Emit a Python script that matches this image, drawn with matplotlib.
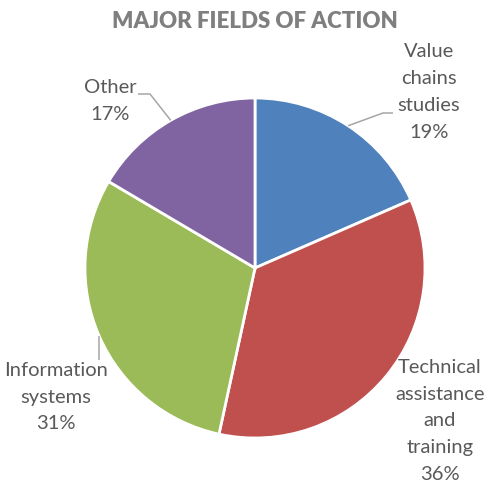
import matplotlib
matplotlib.use("Agg")
import matplotlib.pyplot as plt
import numpy as np

labels = ["Value\nchains\nstudies", "Technical\nassistance\nand\ntraining", "Information\nsystems", "Other"]
values = [19, 36, 31, 17]
colors = ["#4F81BD", "#C0504D", "#9BBB59", "#8064A2"]

fig = plt.figure(figsize=(4.88, 4.84), dpi=100)
# pie centre ~ (255,268) px, radius ~170 px
cx, cy, r = 255, 268, 170
ax = fig.add_axes([(cx - r) / 488, (484 - cy - r) / 484, 2 * r / 488, 2 * r / 484])

wedges, _ = ax.pie(values, colors=colors, startangle=90, counterclock=False,
                   radius=1, wedgeprops=dict(edgecolor="white", linewidth=2))
ax.set_xlim(-1, 1)
ax.set_ylim(-1, 1)
ax.set_aspect("equal")
ax.axis("off")

# mid angles of each wedge
mids = [np.deg2rad((w.theta1 + w.theta2) / 2) for w in wedges]

def px(x, y):
    return (x - cx) / r, (cy - y) / r

txt = dict(fontsize=14.5, color="#595959", ha="center", va="center",
           linespacing=1.7, family="Lato", fontweight="normal", clip_on=False)
lbl_pos = [px(429, 92), px(440, 421), px(56, 397), px(110, 101)]
for lab, v, (x, y) in zip(labels, values, lbl_pos):
    ax.text(x, y, f"{lab}\n{v}%", **txt)

lc = dict(color="#A6A6A6", lw=1.1, clip_on=False, solid_capstyle="butt")
# value chains leader
a = mids[0]
e1, e2 = px(383, 113), px(393, 113)
ax.plot([np.cos(a), e1[0], e2[0]], [np.sin(a), e1[1], e2[1]], **lc)
# other leader
a = mids[3]
e1, e2 = px(150, 94), px(138, 94)
ax.plot([np.cos(a), e1[0], e2[0]], [np.sin(a), e1[1], e2[1]], **lc)
# information systems leader
a = mids[2]
ax.plot([np.cos(a), np.cos(a)], [np.sin(a), px(0, 360)[1]], **lc)

fig.text(255 / 488, 1 - 22 / 484, "MAJOR FIELDS OF ACTION", ha="center", va="center",
         fontsize=16, fontweight="heavy", color="#7F7F7F", family="Lato")

fig.savefig("out.png", dpi=100)
